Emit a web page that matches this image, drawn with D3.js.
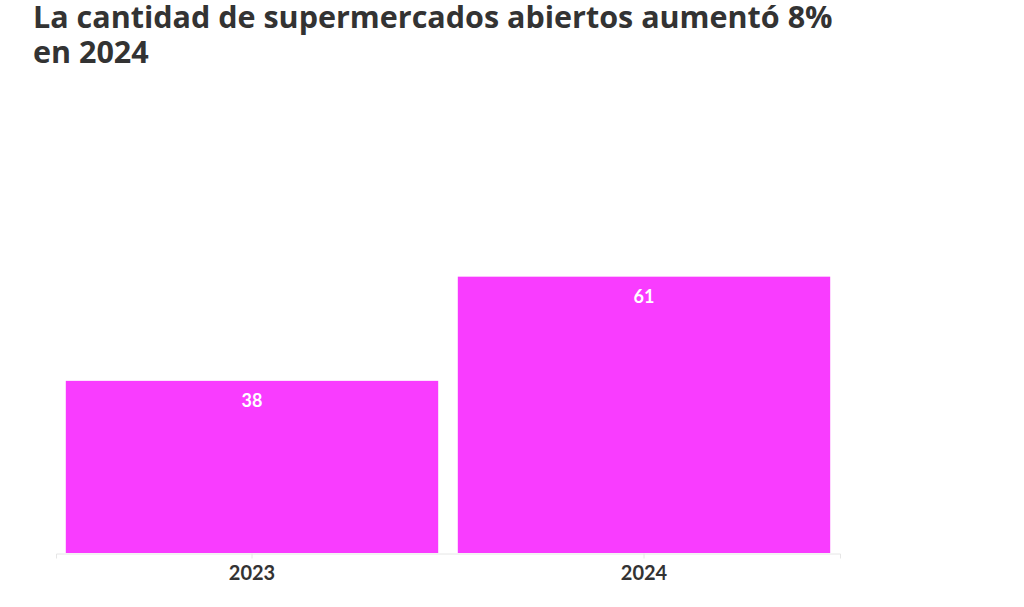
<!DOCTYPE html>
<html>
<head>
<meta charset="utf-8">
<script src="https://cdn.jsdelivr.net/npm/d3@7"></script>
<style>
  body { margin: 0; background: #fff; }
  svg { display: block; font-family: "Lato", "Open Sans", sans-serif; }
</style>
</head>
<body>
<svg width="1024" height="607"></svg>
<script>
const titleLines = ["La cantidad de supermercados abiertos aumentó 8%", "en 2024"];
const years = ["2023", "2024"];
const values = [38, 61];

const svg = d3.select("svg");
const margin = { left: 56, right: 184, top: 80, bottom: 54 };
const width = 1024, height = 607;

// title, one text per line
svg.append("g")
  .selectAll("text")
  .data(titleLines)
  .join("text")
  .attr("x", 33)
  .attr("y", (d, i) => 28 + i * 35)
  .attr("fill", "#333")
  .attr("font-family", "'Open Sans', sans-serif")
  .attr("font-size", 30.5)
  .attr("font-weight", 700)
  .text(d => d);

const x = d3.scaleBand()
  .domain(years)
  .range([margin.left, width - margin.right])
  .paddingInner(0.05)
  .paddingOuter(0.025);

// 0 at baseline, ~4.53px per unit
const y = d3.scaleLinear()
  .domain([0, 100])
  .range([height - margin.bottom, height - margin.bottom - 453]);

// axis
const axis = svg.append("g")
  .attr("transform", `translate(0,${y(0) + 0.5})`)
  .call(d3.axisBottom(x).tickSize(5).tickPadding(7));
axis.select(".domain").attr("stroke", "#e6e6e6");
axis.selectAll(".tick line").attr("stroke", "#e6e6e6");
axis.selectAll(".tick text")
  .attr("fill", "#333")
  .attr("font-size", 20)
  .attr("font-weight", 700)
  .attr("font-family", "Lato, 'Open Sans', sans-serif");

// bars
svg.append("g")
  .selectAll("rect")
  .data(values)
  .join("rect")
  .attr("x", (d, i) => x(years[i]))
  .attr("y", d => y(d))
  .attr("width", x.bandwidth())
  .attr("height", d => y(0) - y(d))
  .attr("fill", "#f93cff");

// value labels
svg.append("g")
  .selectAll("text")
  .data(values)
  .join("text")
  .attr("x", (d, i) => x(years[i]) + x.bandwidth() / 2)
  .attr("y", d => y(d) + 26)
  .attr("text-anchor", "middle")
  .attr("fill", "#fff")
  .attr("font-size", 18)
  .attr("font-weight", 700)
  .text(d => d);
</script>
</body>
</html>
